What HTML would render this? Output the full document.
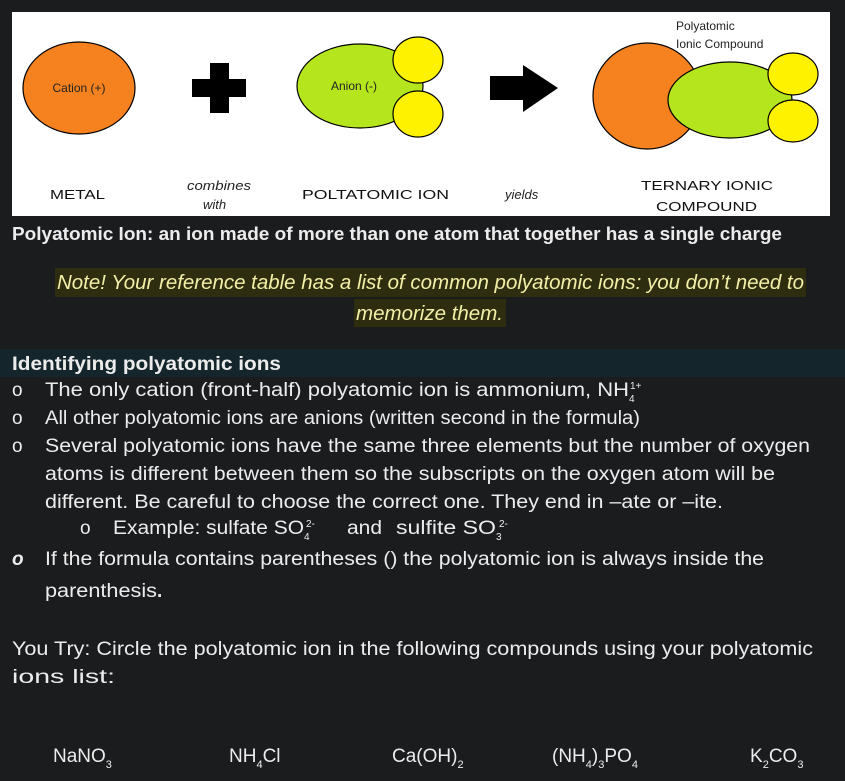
<!DOCTYPE html>
<html><head><meta charset="utf-8"><style>
html,body{margin:0;padding:0;background:#1b1c1e;}
svg{display:block;font-family:"Liberation Sans",sans-serif;font-size:19px;}
.t{fill:#ececec;}
</style></head><body>
<svg width="845" height="781" viewBox="0 0 845 781" xmlns="http://www.w3.org/2000/svg">
<rect width="845" height="781" fill="#1b1c1e"/>
<rect x="12" y="12" width="818" height="204" fill="#fff"/>
<ellipse cx="79" cy="88" rx="56" ry="46" fill="#f5821f" stroke="#000" stroke-width="1.2"/>
<text x="79" y="92" font-size="12" text-anchor="middle" fill="#222">Cation (+)</text>
<rect x="210" y="63" width="19" height="50" fill="#000"/>
<rect x="192" y="79" width="54" height="18" fill="#000"/>
<ellipse cx="360" cy="86" rx="63" ry="42" fill="#b5e51d" stroke="#000" stroke-width="1.2"/>
<ellipse cx="418" cy="60" rx="25" ry="23" fill="#fff200" stroke="#000" stroke-width="1.2"/>
<ellipse cx="418" cy="114" rx="25" ry="23" fill="#fff200" stroke="#000" stroke-width="1.2"/>
<text x="354" y="90" font-size="12" text-anchor="middle" fill="#222">Anion (-)</text>
<polygon points="490,76 523,76 523,65 558,88 523,112 523,100 490,100" fill="#000"/>
<ellipse cx="647" cy="96" rx="54" ry="53" fill="#f5821f" stroke="#000" stroke-width="1.2"/>
<ellipse cx="730" cy="100" rx="62" ry="38" fill="#b5e51d" stroke="#000" stroke-width="1.2"/>
<ellipse cx="793" cy="74" rx="25" ry="21" fill="#fff200" stroke="#000" stroke-width="1.2"/>
<ellipse cx="793" cy="121" rx="25" ry="21" fill="#fff200" stroke="#000" stroke-width="1.2"/>
<text x="676" y="30" font-size="12" fill="#222">Polyatomic</text>
<text x="676" y="48" font-size="12" fill="#222">Ionic Compound</text>
<text x="50" y="199" font-size="13" fill="#111" textLength="55" lengthAdjust="spacingAndGlyphs">METAL</text>
<text x="187" y="190" font-size="13" font-style="italic" fill="#222" textLength="64" lengthAdjust="spacingAndGlyphs">combines</text>
<text x="203" y="209" font-size="13" font-style="italic" fill="#222">with</text>
<text x="302" y="199" font-size="13" fill="#111" textLength="147" lengthAdjust="spacingAndGlyphs">POLTATOMIC ION</text>
<text x="505" y="199" font-size="13" font-style="italic" fill="#222">yields</text>
<text x="641" y="190" font-size="13" fill="#111" textLength="132" lengthAdjust="spacingAndGlyphs">TERNARY IONIC</text>
<text x="656" y="211" font-size="13" fill="#111" textLength="101" lengthAdjust="spacingAndGlyphs">COMPOUND</text>

<text x="12" y="240" class="t" font-size="18" font-weight="bold" textLength="770" lengthAdjust="spacingAndGlyphs">Polyatomic Ion:  an ion made of more than one atom that together has a single charge</text>

<rect x="55" y="268" width="751" height="29" fill="#2f2d0f"/>
<rect x="354" y="299" width="152" height="28" fill="#2f2d0f"/>
<text x="57" y="289" font-size="20" font-style="italic" fill="#f2f0a6" textLength="747" lengthAdjust="spacingAndGlyphs">Note! Your reference table has a list of common polyatomic ions: you don’t need to</text>
<text x="356" y="320" font-size="20" font-style="italic" fill="#f2f0a6" textLength="147" lengthAdjust="spacingAndGlyphs">memorize them.</text>

<rect x="0" y="349" width="845" height="28" fill="#15252c"/>
<text x="12" y="370" class="t" font-weight="bold" textLength="269" lengthAdjust="spacingAndGlyphs">Identifying polyatomic ions</text>

<text x="12" y="396" class="t">o</text>
<text x="45" y="396" class="t" textLength="584" lengthAdjust="spacingAndGlyphs">The only cation (front-half) polyatomic ion is ammonium, NH</text>
<text x="629" y="402" class="t" font-size="10">4</text>
<text x="630" y="389" class="t" font-size="10">1+</text>
<text x="12" y="424" class="t">o</text>
<text x="45" y="424" class="t" textLength="595" lengthAdjust="spacingAndGlyphs">All other polyatomic ions are anions (written second in the formula)</text>
<text x="12" y="452" class="t">o</text>
<text x="45" y="452" class="t" textLength="765" lengthAdjust="spacingAndGlyphs">Several polyatomic ions have the same three elements but the number of oxygen</text>
<text x="45" y="480" class="t" textLength="730" lengthAdjust="spacingAndGlyphs">atoms is different between them so the subscripts on the oxygen atom will be</text>
<text x="45" y="508" class="t" textLength="678" lengthAdjust="spacingAndGlyphs">different.  Be careful to choose the correct one.  They end in –ate or –ite.</text>
<text x="80" y="534" class="t">o</text>
<text x="113" y="534" class="t" textLength="191" lengthAdjust="spacingAndGlyphs">Example:  sulfate  SO</text>
<text x="304" y="540" class="t" font-size="10">4</text>
<text x="306" y="527" class="t" font-size="10">2-</text>
<text x="347" y="534" class="t" textLength="35" lengthAdjust="spacingAndGlyphs">and</text>
<text x="396" y="534" class="t" textLength="100" lengthAdjust="spacingAndGlyphs">sulfite  SO</text>
<text x="496" y="540" class="t" font-size="10">3</text>
<text x="499" y="527" class="t" font-size="10">2-</text>
<text x="12" y="565" class="t" font-weight="bold" font-style="italic">o</text>
<text x="45" y="565" class="t" textLength="719" lengthAdjust="spacingAndGlyphs">If the formula contains parentheses () the polyatomic ion is always inside the</text>
<text x="45" y="597" class="t" textLength="112" lengthAdjust="spacingAndGlyphs">parenthesis</text>
<text x="157" y="597" class="t" font-weight="bold">.</text>

<text x="12" y="655" class="t" textLength="801" lengthAdjust="spacingAndGlyphs">You Try:  Circle the polyatomic ion in the following compounds using your polyatomic</text>
<text x="12" y="683" class="t" textLength="103" lengthAdjust="spacingAndGlyphs">ions list:</text>

<text x="53" y="762" class="t">NaNO<tspan font-size="11" dy="6">3</tspan></text>
<text x="229" y="762" class="t">NH<tspan font-size="11" dy="6">4</tspan><tspan dy="-6">Cl</tspan></text>
<text x="392" y="762" class="t">Ca(OH)<tspan font-size="11" dy="6">2</tspan></text>
<text x="552" y="762" class="t">(NH<tspan font-size="11" dy="6">4</tspan><tspan dy="-6">)</tspan><tspan font-size="11" dy="6">3</tspan><tspan dy="-6">PO</tspan><tspan font-size="11" dy="6">4</tspan></text>
<text x="750" y="762" class="t">K<tspan font-size="11" dy="6">2</tspan><tspan dy="-6">CO</tspan><tspan font-size="11" dy="6">3</tspan></text>
</svg>
</body></html>
